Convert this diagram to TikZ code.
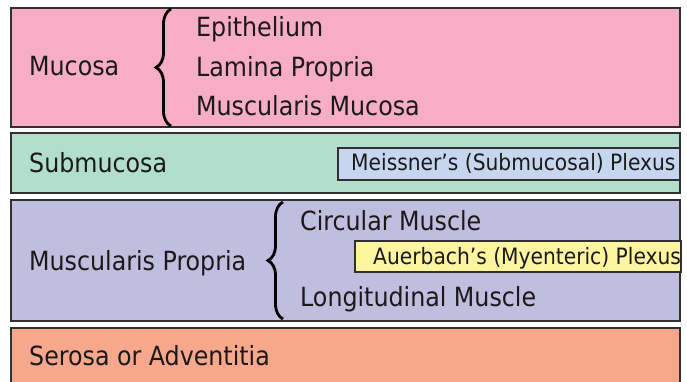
\documentclass[tikz,border=0pt]{standalone}
\usepackage{fontspec}
\setmainfont{DejaVu Sans Condensed}
\usetikzlibrary{decorations.pathreplacing}
\definecolor{mucosa}{HTML}{F7ADC5}
\definecolor{submuc}{HTML}{B2DFCB}
\definecolor{muscul}{HTML}{C1BDDF}
\definecolor{serosa}{HTML}{F7A88C}
\definecolor{meiss}{HTML}{C6D6EF}
\definecolor{auer}{HTML}{FFF59E}
\definecolor{edge}{HTML}{303030}
\definecolor{ink}{HTML}{1A1A1A}
\tikzset{
  layer/.style={draw=edge, line width=1.5pt},
  lbl/.style={anchor=base west, inner sep=0pt, text=ink, font=\fontsize{26.4}{28}\selectfont},
  plx/.style={anchor=base west, inner sep=0pt, text=ink, font=\fontsize{22.5}{24}\selectfont},
  brc/.style={decorate, decoration={brace, amplitude=15pt}, line width=2.8pt, draw=black}
}
\begin{document}
\begin{tikzpicture}[x=1pt,y=-1pt]
\useasboundingbox (0,0) rectangle (687,382);
\fill[white] (0,0) rectangle (687,382);
% layers
\draw[layer, fill=mucosa] (11,8) rectangle (680,127);
\draw[layer, fill=submuc] (11,133) rectangle (680,193);
\draw[layer, fill=muscul] (11,200) rectangle (680,321);
\draw[layer, fill=serosa] (11,328) rectangle (680,400);
% plexus boxes
\draw[layer, fill=meiss] (338,148) rectangle (680,180);
\draw[layer, fill=auer] (355,241) rectangle (681,272);
% labels
\node[lbl] (muc) at (29,76) {Mucosa};
\node[lbl] (epi) at (196,37) {Epithelium};
\node[lbl] (lam) at (196,77) {Lamina Propria};
\node[lbl] (mm) at (196,116) {Muscularis Mucosa};
\node[lbl] (sub) at (29,172) {Submucosa};
\node[plx] (mei) at (351,171) {Meissner’s (Submucosal) Plexus};
\node[lbl] (mp) at (29,270) {Muscularis Propria};
\node[lbl] (circ) at (300,230) {Circular Muscle};
\node[plx] (aue) at (373,264) {Auerbach’s (Myenteric) Plexus};
\node[lbl] (long) at (300,306) {Longitudinal Muscle};
\node[lbl] (ser) at (29,365) {Serosa or Adventitia};
% braces
\coordinate (b1a) at (171,126);
\coordinate (b1b) at (171,9);
\draw[brc] (b1a) -- (b1b);
\coordinate (b2a) at (283,319);
\coordinate (b2b) at (283,202);
\draw[brc] (b2a) -- (b2b);
\end{tikzpicture}
\end{document}
